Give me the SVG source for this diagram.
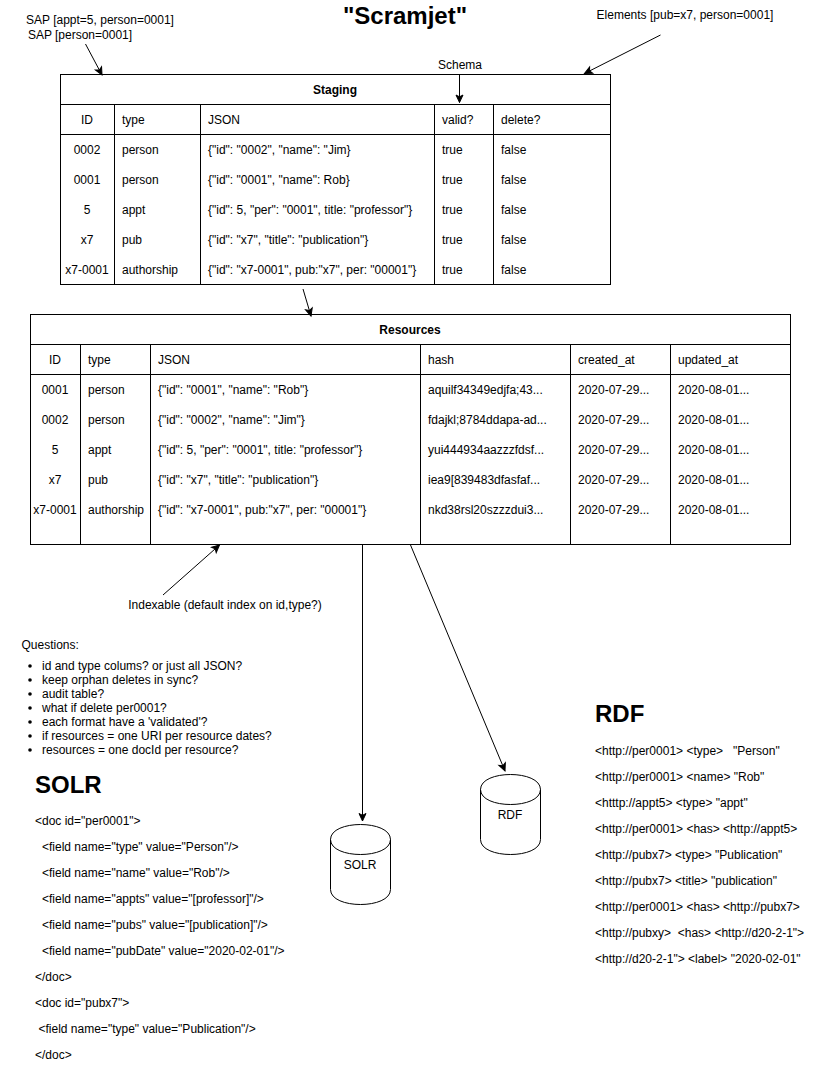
<svg xmlns="http://www.w3.org/2000/svg" width="821" height="1065" viewBox="0 0 821 1065">
<style>
text{font-family:"Liberation Sans",Arial,sans-serif;font-size:12px;fill:#000;white-space:pre}
.m{text-anchor:middle}
.b{font-weight:bold}
.h{font-size:24px;font-weight:bold}
.l{fill:none;stroke:#000;stroke-width:1}
.t{fill:#fff;stroke:#000;stroke-width:1}
</style>
<defs>
<marker id="a" markerUnits="userSpaceOnUse" markerWidth="12" markerHeight="10" refX="8" refY="4.5" orient="auto" overflow="visible">
<path d="M0.5,1 L8,4.5 L0.5,8 L2.3,4.5 Z" fill="#000" stroke="#000"/>
</marker>
</defs>
<rect width="821" height="1065" fill="#fff"/>
<g id="title"><text class="m b" x="405" y="24" style="font-size:24px">"Scramjet"</text></g>
<g id="label-sap">
<text class="m" x="100" y="24">SAP [appt=5, person=0001]</text>
<text class="m" x="80" y="39">SAP [person=0001]</text>
</g>
<g id="label-elements"><text class="m" x="685" y="19">Elements [pub=x7, person=0001]</text></g>
<g id="label-schema"><text class="m" x="460" y="69">Schema</text></g>
<g id="staging">
<rect class="t" x="60.500" y="74.500" width="550" height="210"/>
<path class="l" d="M60.500,104.500H610.500M60.500,134.500H610.500M114.500,104.500V284.500M200.500,104.500V284.500M434.500,104.500V284.500M493.500,104.500V284.500"/>
<text class="m b" x="335" y="94">Staging</text>
<text class="m" x="87" y="124">ID</text><text x="122" y="124">type</text><text x="208" y="124">JSON</text><text x="442" y="124">valid?</text><text x="501" y="124">delete?</text>
<text class="m" x="87" y="154">0002</text><text x="122" y="154">person</text><text x="208" y="154">{"id": "0002", "name": "Jim}</text><text x="442" y="154">true</text><text x="501" y="154">false</text>
<text class="m" x="87" y="184">0001</text><text x="122" y="184">person</text><text x="208" y="184">{"id": "0001", "name": Rob}</text><text x="442" y="184">true</text><text x="501" y="184">false</text>
<text class="m" x="87" y="214">5</text><text x="122" y="214">appt</text><text x="208" y="214">{"id": 5, "per": "0001", title: "professor"}</text><text x="442" y="214">true</text><text x="501" y="214">false</text>
<text class="m" x="87" y="244">x7</text><text x="122" y="244">pub</text><text x="208" y="244">{"id": "x7", "title": "publication"}</text><text x="442" y="244">true</text><text x="501" y="244">false</text>
<text class="m" x="87" y="274">x7-0001</text><text x="122" y="274">authorship</text><text x="208" y="274">{"id": "x7-0001", pub:"x7", per: "00001"}</text><text x="442" y="274">true</text><text x="501" y="274">false</text>
</g>
<g id="resources">
<rect class="t" x="30.500" y="314.500" width="760" height="230"/>
<path class="l" d="M30.500,344.500H790.500M30.500,374.500H790.500M80.500,344.500V544.500M150.500,344.500V544.500M420.500,344.500V544.500M570.500,344.500V544.500M670.500,344.500V544.500"/>
<text class="m b" x="410" y="334">Resources</text>
<text class="m" x="55" y="364">ID</text><text x="88" y="364">type</text><text x="158" y="364">JSON</text><text x="428" y="364">hash</text><text x="578" y="364">created_at</text><text x="678" y="364">updated_at</text>
<text class="m" x="55" y="394">0001</text><text x="88" y="394">person</text><text x="158" y="394">{"id": "0001", "name": "Rob"}</text><text x="428" y="394">aquilf34349edjfa;43...</text><text x="578" y="394">2020-07-29...</text><text x="678" y="394">2020-08-01...</text>
<text class="m" x="55" y="424">0002</text><text x="88" y="424">person</text><text x="158" y="424">{"id": "0002", "name": "Jim"}</text><text x="428" y="424">fdajkl;8784ddapa-ad...</text><text x="578" y="424">2020-07-29...</text><text x="678" y="424">2020-08-01...</text>
<text class="m" x="55" y="454">5</text><text x="88" y="454">appt</text><text x="158" y="454">{"id": 5, "per": "0001", title: "professor"}</text><text x="428" y="454">yui444934aazzzfdsf...</text><text x="578" y="454">2020-07-29...</text><text x="678" y="454">2020-08-01...</text>
<text class="m" x="55" y="484">x7</text><text x="88" y="484">pub</text><text x="158" y="484">{"id": "x7", "title": "publication"}</text><text x="428" y="484">iea9[839483dfasfaf...</text><text x="578" y="484">2020-07-29...</text><text x="678" y="484">2020-08-01...</text>
<text class="m" x="55" y="514">x7-0001</text><text x="88" y="514">authorship</text><text x="158" y="514">{"id": "x7-0001", pub:"x7", per: "00001"}</text><text x="428" y="514">nkd38rsl20szzzdui3...</text><text x="578" y="514">2020-07-29...</text><text x="678" y="514">2020-08-01...</text>
</g>
<g id="label-indexable"><text class="m" x="225" y="609">Indexable (default index on id,type?)</text></g>
<g id="questions">
<text x="21.500" y="649">Questions:</text>
<circle cx="30" cy="666" r="1.800"/><text x="42" y="670">id and type colums? or just all JSON?</text>
<circle cx="30" cy="680" r="1.800"/><text x="42" y="684">keep orphan deletes in sync?</text>
<circle cx="30" cy="694" r="1.800"/><text x="42" y="698">audit table?</text>
<circle cx="30" cy="708" r="1.800"/><text x="42" y="712">what if delete per0001?</text>
<circle cx="30" cy="722" r="1.800"/><text x="42" y="726">each format have a 'validated'?</text>
<circle cx="30" cy="736" r="1.800"/><text x="42" y="740">if resources = one URI per resource dates?</text>
<circle cx="30" cy="750" r="1.800"/><text x="42" y="754">resources = one docId per resource?</text>
</g>
<g id="solr-text">
<text class="h" x="35" y="793">SOLR</text>
<text x="35" y="825">&lt;doc id="per0001"&gt;</text>
<text x="42" y="851">&lt;field name="type" value="Person"/&gt;</text>
<text x="42" y="877">&lt;field name="name" value="Rob"/&gt;</text>
<text x="42" y="903">&lt;field name="appts" value="[professor]"/&gt;</text>
<text x="42" y="929">&lt;field name="pubs" value="[publication]"/&gt;</text>
<text x="42" y="955">&lt;field name="pubDate" value="2020-02-01"/&gt;</text>
<text x="35" y="981">&lt;/doc&gt;</text>
<text x="35" y="1007">&lt;doc id="pubx7"&gt;</text>
<text x="38.500" y="1033">&lt;field name="type" value="Publication"/&gt;</text>
<text x="35" y="1059">&lt;/doc&gt;</text>
</g>
<g id="solr-db">
<path class="t" d="M330.500,839.500C330.500,819.500 390.500,819.500 390.500,839.500V889.500C390.500,909.500 330.500,909.500 330.500,889.500Z"/>
<path class="l" d="M330.500,839.500C330.500,859.500 390.500,859.500 390.500,839.500"/>
<text class="m" x="360" y="869">SOLR</text>
</g>
<g id="rdf-db">
<path class="t" d="M480.500,789.500C480.500,769.500 540.500,769.500 540.500,789.500V839.500C540.500,859.500 480.500,859.500 480.500,839.500Z"/>
<path class="l" d="M480.500,789.500C480.500,809.500 540.500,809.500 540.500,789.500"/>
<text class="m" x="510" y="819">RDF</text>
</g>
<g id="rdf-text">
<text class="h" x="595" y="722">RDF</text>
<text x="595" y="755">&lt;http://per0001&gt; &lt;type&gt;   "Person"</text>
<text x="595" y="781">&lt;http://per0001&gt; &lt;name&gt; "Rob"</text>
<text x="595" y="807">&lt;htttp://appt5&gt; &lt;type&gt; "appt"</text>
<text x="595" y="833">&lt;http://per0001&gt; &lt;has&gt; &lt;http://appt5&gt;</text>
<text x="595" y="859">&lt;http://pubx7&gt; &lt;type&gt; "Publication"</text>
<text x="595" y="885">&lt;http://pubx7&gt; &lt;title&gt; "publication"</text>
<text x="595" y="911">&lt;http://per0001&gt; &lt;has&gt; &lt;http://pubx7&gt;</text>
<text x="595" y="937">&lt;http://pubxy&gt;  &lt;has&gt; &lt;http://d20-2-1"&gt;</text>
<text x="595" y="963">&lt;http://d20-2-1"&gt; &lt;label&gt; "2020-02-01"</text>
</g>
<g id="connectors">
<path class="l" marker-end="url(#a)" d="M85.500,44 L102,75"/>
<path class="l" marker-end="url(#a)" d="M660.500,35 L584.500,73.500"/>
<path class="l" marker-end="url(#a)" d="M459.500,75 L459.500,102.500"/>
<path class="l" marker-end="url(#a)" d="M303,289 L311,316"/>
<path class="l" marker-end="url(#a)" d="M163,595 L219.500,545"/>
<path class="l" marker-end="url(#a)" d="M362.500,545 L362.500,821"/>
<path class="l" marker-end="url(#a)" d="M410.500,545 L505,771"/>
</g>
</svg>
